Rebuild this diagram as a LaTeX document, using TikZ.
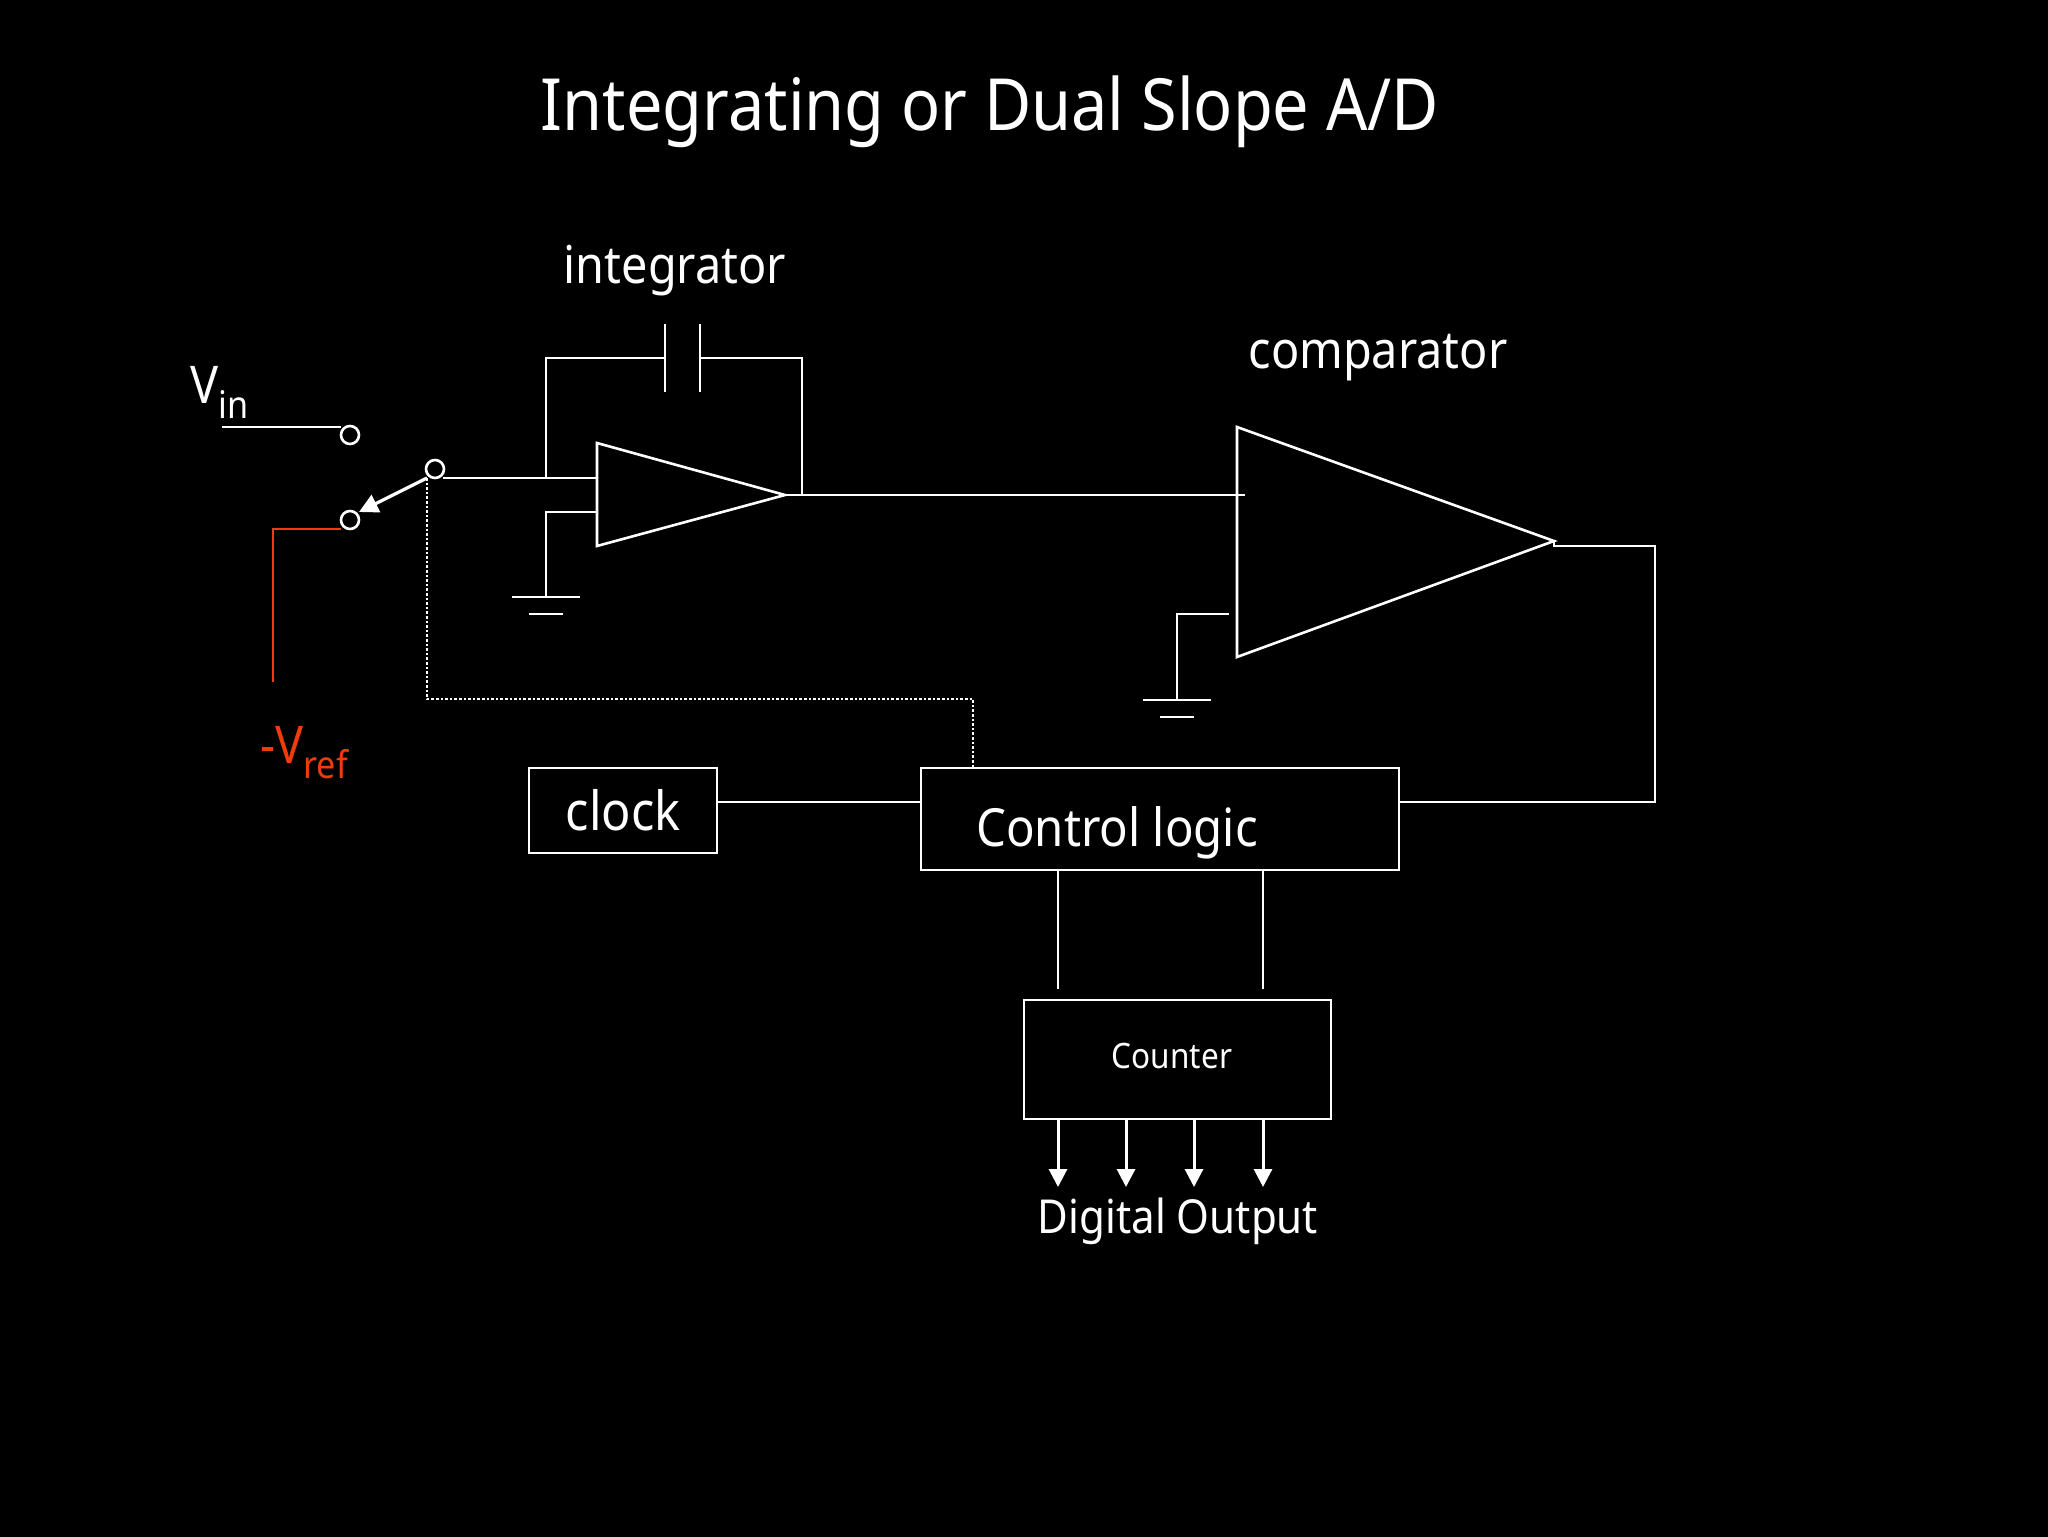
\documentclass[tikz,border=0pt]{standalone}
\usepackage{fontspec}
\setmainfont[FakeStretch=0.9]{Noto Sans}
\usetikzlibrary{arrows.meta}
\definecolor{vrefred}{RGB}{240,60,10}
\tikzset{
    wire/.style={draw=white, line width=1.3pt},
    redwire/.style={draw=vrefred, line width=1.3pt},
    ctrlwire/.style={draw=white, line width=1.3pt, densely dotted},
    outarrow/.style={draw=white, line width=1.5pt, -{Triangle[width=9pt,length=9pt]}},
    armarrow/.style={draw=white, line width=1.6pt, -{Triangle[width=9.5pt,length=9.5pt]}},
    block/.style={draw=white, line width=1.3pt, inner sep=0pt, text=white},
    terminal/.style={circle, draw=white, line width=1.3pt, fill=black, minimum size=9pt, inner sep=0pt},
    lbl/.style={text=white, inner sep=0pt},
    pics/ground/.style={code={
        \draw[wire] (-34,0) -- (34,0);
        \draw[wire] (-17,17) -- (17,17);
    }}
}
\newcommand{\fsz}[1]{\fontsize{#1}{#1}\selectfont}
\begin{document}
\begin{tikzpicture}[x=0.5pt,y=-0.5pt]
    \fill[black, overlay] (-10,-10) rectangle (2058,1546);
    \useasboundingbox (0,0) rectangle (2048,1536);
    % labels
    \node[lbl, font=\fsz{36}] (title) at (990,112) {Integrating or Dual Slope A/D};
    \node[lbl, font=\fsz{26}] (intlabel) at (675,271) {integrator};
    \node[lbl, font=\fsz{26}] (complabel) at (1378,358) {comparator};
    \node[lbl, font=\fsz{26}, anchor=base west] (vin) at (190,403) {V\raisebox{-0.29em}{\fsz{19}in}};
    \node[lbl, font=\fsz{26}, text=vrefred, anchor=base west] (vref) at (260,763) {-V\raisebox{-0.3em}{\fsz{19}ref}};
    % switch
    \node[terminal] (swa) at (350,435) {};
    \node[terminal] (swb) at (350,520) {};
    \node[terminal] (swc) at (435,469) {};
    \coordinate (vinend) at (222,427);
    \coordinate (vinpin) at (341,427);
    \coordinate (vrefpin) at (341,529);
    \coordinate (vrefcorner) at (273,529);
    \coordinate (vrefend) at (273,682);
    \coordinate (swout) at (443,478);
    \coordinate (swarm) at (427,478);
    \coordinate (swtip) at (359,512);
    \draw[wire] (vinend) -- (vinpin);
    \draw[redwire] (vrefpin) -- (vrefcorner) -- (vrefend);
    \draw[armarrow] (swarm) -- (swtip);
    % integrator
    \coordinate (inta) at (597,443);
    \coordinate (intb) at (597,546);
    \coordinate (intout) at (785,495);
    \coordinate (intin) at (597,478);
    \coordinate (intgnd) at (597,512);
    \coordinate (fbnode) at (546,478);
    \coordinate (fbleft) at (546,358);
    \coordinate (capl) at (665,358);
    \coordinate (capr) at (700,358);
    \coordinate (fbright) at (802,358);
    \coordinate (fbdown) at (802,495);
    \coordinate (gndcorner) at (546,512);
    \coordinate (gnda) at (546,597);
    \draw[wire] (inta) -- (intout) -- (intb) -- cycle;
    \draw[wire] (swout) -- (intin);
    \draw[wire] (fbnode) -- (fbleft) -- (capl);
    \draw[wire] (capl |- 0,324) -- (capl |- 0,392);
    \draw[wire] (capr |- 0,324) -- (capr |- 0,392);
    \draw[wire] (capr) -- (fbright) -- (fbdown);
    \draw[wire] (intgnd) -- (gndcorner) -- (gnda);
    \pic at (gnda) {ground};
    % comparator
    \coordinate (cmpa) at (1237,427);
    \coordinate (cmpb) at (1237,657);
    \coordinate (cmpout) at (1554,541);
    \coordinate (cmpin) at (1245,495);
    \coordinate (cmpgnd) at (1229,614);
    \coordinate (cmpcorner) at (1177,614);
    \coordinate (gndb) at (1177,700);
    \coordinate (outa) at (1554,546);
    \coordinate (outb) at (1655,546);
    \coordinate (outc) at (1655,802);
    \draw[wire] (cmpa) -- (cmpout) -- (cmpb) -- cycle;
    \draw[wire] (intout) -- (cmpin);
    \draw[wire] (cmpgnd) -- (cmpcorner) -- (gndb);
    \pic at (gndb) {ground};
    % blocks
    \node[block, minimum width=94pt, minimum height=42.5pt, font=\fsz{27}] (clock) at (623,810.5) {clock};
    \node[block, minimum width=239pt, minimum height=51pt] (ctrl) at (1160,819) {};
    \node[lbl, font=\fsz{26.3}] (ctrllabel) at (1117,833) {Control logic};
    \node[block, minimum width=153.5pt, minimum height=59.5pt] (counter) at (1177.5,1059.5) {};
    \node[lbl, font=\fsz{17.5}] (cntlabel) at (1172,1056) {Counter};
    \node[lbl, font=\fsz{23.4}] (digout) at (1178,1221) {Digital Output};
    \draw[wire] (clock.east |- outc) -- (ctrl.west |- outc);
    \draw[wire] (cmpout) -- (outa) -- (outb) -- (outc) -- (ctrl.east |- outc);
    \coordinate (dota) at (427,699);
    \coordinate (dotb) at (973,699);
    \draw[ctrlwire] (swarm) -- (dota) -- (dotb) -- (dotb |- ctrl.north);
    % counter lines
    \foreach \xx in {1058,1263} {
        \draw[wire] (\xx,870) -- (\xx,989);
    }
    \foreach \xx in {1058,1126,1194,1263} {
        \draw[outarrow] (\xx,1119) -- (\xx,1187);
    }
\end{tikzpicture}
\end{document}
